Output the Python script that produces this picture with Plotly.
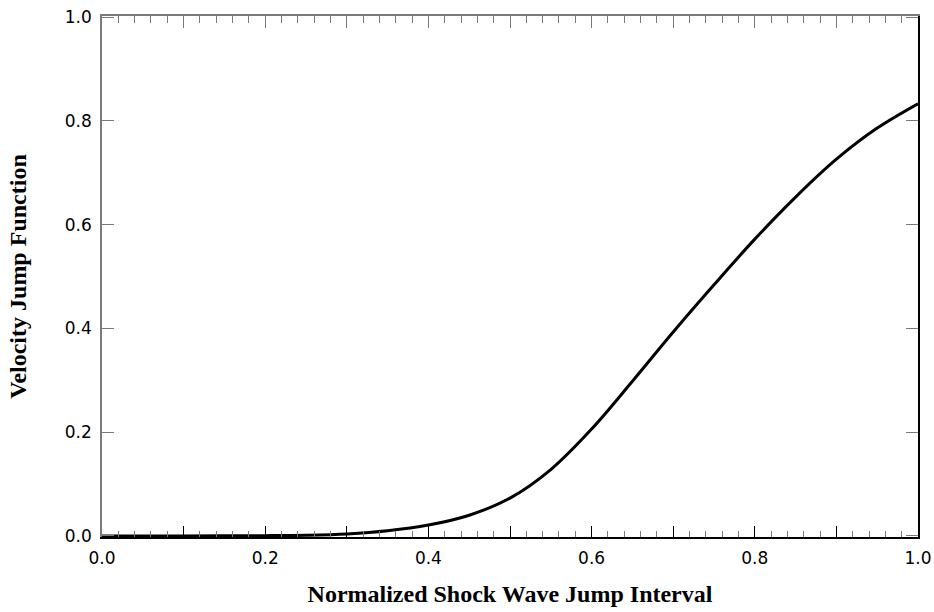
import plotly.graph_objects as go

# Data
x_vals = [0.0, 0.05, 0.10, 0.15, 0.20, 0.25, 0.30, 0.35, 0.40, 0.45, 0.50,
          0.55, 0.60, 0.65, 0.70, 0.75, 0.80, 0.85, 0.90, 0.95, 1.00]
y_vals = [0.0, 0.0, 0.0, 0.0002, 0.0006, 0.0015, 0.004, 0.010, 0.021, 0.040, 0.073,
          0.128, 0.206, 0.298, 0.393, 0.484, 0.572, 0.653, 0.726, 0.786, 0.833]

x_tickvals = [0.0, 0.1, 0.2, 0.3, 0.4, 0.5, 0.6, 0.7, 0.8, 0.9, 1.0]
x_ticktext = ["0.0", "", "0.2", "", "0.4", "", "0.6", "", "0.8", "", "1.0"]
y_tickvals = [0.0, 0.2, 0.4, 0.6, 0.8, 1.0]
y_ticktext = ["0.0", "0.2", "0.4", "0.6", "0.8", "1.0"]

x_title = "Normalized Shock Wave Jump Interval"
y_title = "Velocity Jump Function"

GRAY = "#7a7a7a"
tickfont = dict(family="DejaVu Sans", size=17, color="black")
titlefont = dict(family="Liberation Serif", size=24, color="black")

fig = go.Figure()
fig.add_trace(go.Scatter(x=x_vals, y=y_vals, mode="lines",
                         line=dict(color="black", width=3, shape="spline", smoothing=1.0),
                         showlegend=False, hoverinfo="skip"))
# invisible trace on mirrored axes so they render
fig.add_trace(go.Scatter(x=[0, 1], y=[0, 1], xaxis="x2", yaxis="y2", mode="markers",
                         marker=dict(opacity=0), showlegend=False, hoverinfo="skip"))

rng_x = [0, 1]
rng_y = [-0.002, 1.002]

fig.update_layout(
    width=934, height=612,
    margin=dict(l=102, r=16, t=16, b=75, autoexpand=False),
    plot_bgcolor="white", paper_bgcolor="white",
    xaxis=dict(range=rng_x, tickmode="array", tickvals=x_tickvals, ticktext=x_ticktext,
               ticks="inside", ticklen=11, tickwidth=1, tickcolor="black",
               minor=dict(dtick=0.02, ticks="inside", ticklen=6, tickcolor=GRAY, tickwidth=1),
               showline=True, linecolor="black", linewidth=1.5, showgrid=False, zeroline=False,
               tickfont=tickfont, ticklabelstandoff=5, automargin=False,
               title=dict(text="<b>" + x_title + "</b>", font=titlefont, standoff=18)),
    yaxis=dict(range=rng_y, tickmode="array", tickvals=y_tickvals, ticktext=y_ticktext,
               ticks="inside", ticklen=12, tickwidth=1, tickcolor=GRAY,
               showline=True, linecolor=GRAY, linewidth=1.5, showgrid=False, zeroline=False,
               tickfont=tickfont, ticklabelstandoff=5, automargin=False,
               title=dict(text="<b>" + y_title + "</b>", font=titlefont, standoff=31)),
    xaxis2=dict(range=rng_x, overlaying="x", side="top", anchor="y", tickmode="array",
                tickvals=x_tickvals, ticktext=[""] * len(x_tickvals),
                ticks="inside", ticklen=12, tickwidth=1, tickcolor=GRAY,
                minor=dict(dtick=0.02, ticks="inside", ticklen=7, tickcolor=GRAY, tickwidth=1),
                showline=True, linecolor=GRAY, linewidth=1.5, showgrid=False, zeroline=False,
                automargin=False),
    yaxis2=dict(range=rng_y, overlaying="y", side="right", anchor="x", tickmode="array",
                tickvals=y_tickvals, ticktext=[""] * len(y_tickvals),
                ticks="inside", ticklen=12, tickwidth=1, tickcolor=GRAY,
                showline=True, linecolor="black", linewidth=1.5, showgrid=False, zeroline=False,
                automargin=False),
)

fig.write_html("out.html", config={"displayModeBar": False})

# remove default browser body margin so the figure sits at the page origin
with open("out.html", "r", encoding="utf-8") as f:
    html = f.read()
html = html.replace("<body>", '<body style="margin:0;padding:0;overflow:hidden;">', 1)
with open("out.html", "w", encoding="utf-8") as f:
    f.write(html)
